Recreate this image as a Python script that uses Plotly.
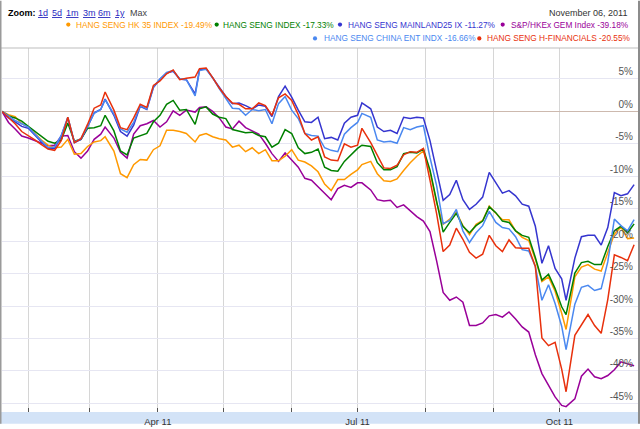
import plotly.graph_objects as go

# ---------------- data ----------------
dates = [
    "2011-01-20", "2011-01-23", "2011-01-26", "2011-01-29", "2011-02-01", "2011-02-04",
    "2011-02-07", "2011-02-10", "2011-02-13", "2011-02-16", "2011-02-19", "2011-02-22",
    "2011-02-25", "2011-02-28", "2011-03-03", "2011-03-06", "2011-03-08", "2011-03-12",
    "2011-03-15", "2011-03-18", "2011-03-21", "2011-03-24", "2011-03-27", "2011-03-30",
    "2011-04-02", "2011-04-05", "2011-04-08", "2011-04-11", "2011-04-14", "2011-04-18",
    "2011-04-20", "2011-04-23", "2011-04-26", "2011-04-29", "2011-05-02", "2011-05-05",
    "2011-05-08", "2011-05-11", "2011-05-14", "2011-05-17", "2011-05-20", "2011-05-23",
    "2011-05-26", "2011-05-29", "2011-06-01", "2011-06-04", "2011-06-07", "2011-06-10",
    "2011-06-13", "2011-06-16",
    "2011-06-19", "2011-06-22", "2011-06-25", "2011-06-28", "2011-07-01", "2011-07-03",
    "2011-07-07", "2011-07-10", "2011-07-13", "2011-07-16", "2011-07-19", "2011-07-22",
    "2011-07-25", "2011-07-28", "2011-07-31", "2011-08-03", "2011-08-06", "2011-08-09",
    "2011-08-12", "2011-08-15",
    "2011-08-18", "2011-08-21", "2011-08-24", "2011-08-27", "2011-08-30", "2011-09-02",
    "2011-09-05",
    "2011-09-08", "2011-09-11", "2011-09-14", "2011-09-17", "2011-09-20", "2011-09-23",
    "2011-09-26", "2011-09-29", "2011-10-02", "2011-10-04", "2011-10-08", "2011-10-11",
    "2011-10-14", "2011-10-17", "2011-10-20", "2011-10-23", "2011-10-26", "2011-10-29",
    "2011-11-01", "2011-11-04",
]

hk35 = [0, -0.5, -0.8, -1.9, -2.4, -3.4, -4.4, -5.2, -5.6, -5.5, -4.3, -6.6, -6.5, -5.4, -4.7, -4.5, -3.9, -6.1, -9.6, -10.2, -8.2, -7.4, -7.5, -5.9,
        -5.3, -2.9, -2.9, -3.1, -3.4, -4.7, -3.7, -3.4, -3.9, -4.2, -4.4, -5.5, -5.2, -6.2, -5.6, -6.5, -5.9, -7.6, -7.6, -6.9, -5.9, -7.5, -7.8, -8.4, -9.3, -11.2,
        -12.2, -10.5, -10.5, -9.7, -9.0, -8.2, -7.7, -9.6, -10.7, -10.8, -10.4, -9.1, -7.9, -6.9, -6.1, -9.3, -14.0, -17.4, -16.6, -15.5,
        -17.6, -19.0, -17.4, -16.8, -14.6, -15.7, -16.7,
        -16.7, -18.4, -19.4, -19.9, -22.8, -26.2, -25.5, -27.7, -31.1, -33.6, -25.5, -24.0, -23.6, -24.3, -24.6, -21.8, -18.9, -17.8, -19.6, -19.49]

hsi = [0, -0.7, -1.0, -1.5, -2.3, -3.1, -3.9, -4.6, -4.9, -4.4, -1.8, -4.6, -4.3, -2.6, -2.5, -2.2, -0.6, -3.0, -6.1, -6.7, -4.1, -3.7, -3.4, -1.6,
       -0.6, 1.1, 1.7, 0.2, 0.3, -2.0, 0.4, 0.7, -0.4, -0.9, -1.1, -2.8, -3.1, -3.3, -3.2, -3.7, -3.9, -5.5, -4.9, -2.8, -3.4, -5.6, -6.5, -6.3, -5.8, -8.6,
       -9.1, -9.2, -7.7, -6.7, -5.7, -5.2, -5.4, -7.9, -9.0, -9.0, -8.5, -6.5, -6.3, -6.4, -5.8, -9.0, -13.7, -18.6, -17.1, -15.7,
       -17.7, -18.7, -17.6, -16.9, -14.7, -15.6, -16.9,
       -17.1, -18.4, -19.1, -19.4, -22.5, -26.0, -25.1, -27.3, -30.1, -31.3, -24.9, -23.3, -23.1, -23.6, -23.6, -20.8, -18.4, -17.7, -18.7, -17.33]

mainland25 = [0, -1.0, -1.6, -2.3, -2.6, -3.7, -4.7, -5.7, -5.7, -3.8, -1.0, -4.8, -4.3, -2.4, -0.2, 0.3, 1.9, -0.6, -3.1, -3.8, -2.1, 0.8, 0.3, 3.7,
              5.0, 5.9, 6.2, 5.0, 4.9, 2.7, 6.4, 6.6, 5.2, 3.6, 2.3, 1.2, 1.3, 0.9, 0.4, 1.0, 0.8, -0.8, 2.3, 3.9, 2.2, 0.2, -1.6, -1.7, -0.9, -4.2,
              -4.0, -4.4, -1.8, -0.9, -0.6, 1.3, 0.4, -2.4, -3.1, -2.9, -3.4, -0.9, -1.1, -0.9, -1.0, -4.5, -9.3, -13.7, -12.8, -10.6,
              -13.6, -15.1, -14.3, -13.2, -9.4, -10.9, -12.6,
              -12.2, -13.0, -14.3, -14.6, -17.7, -23.4, -20.7, -24.2, -25.8, -29.1, -22.6, -19.3, -19.1, -19.1, -20.6, -17.9, -12.5, -13.0, -12.7, -11.27]

gem = [0, -1.7, -2.7, -3.8, -4.1, -4.5, -4.9, -5.3, -5.2, -3.8, -3.7, -6.2, -7.2, -6.1, -4.3, -3.5, -2.4, -4.1, -6.3, -7.2, -3.5, -2.2, -1.9, -1.4,
       -2.4, -1.6, 0.1, -0.6, 0.2, -0.1, 0.6, 0.7, 0.0, -1.0, -2.4, -2.7, -1.5, -2.5, -3.0, -3.5, -4.9, -6.5, -7.7, -6.4, -7.5, -8.6, -10.3, -10.6, -11.6, -12.6,
       -13.6, -11.9, -11.4, -11.7, -11.0, -11.0, -12.1, -13.6, -13.8, -13.7, -14.8, -14.4, -15.3, -16.2, -16.9, -18.5, -23.0, -27.9, -29.1, -28.6,
       -29.4, -33.0, -33.0, -32.6, -31.5, -31.3, -31.7,
       -30.9, -32.0, -33.2, -34.0, -37.5, -40.4, -42.3, -44.0, -45.3, -45.5, -44.3, -40.8, -39.7, -40.9, -41.2, -40.7, -39.8, -38.6, -38.9, -39.18]

china_ent = [0, -0.7, -1.4, -1.9, -2.4, -3.5, -4.5, -5.6, -5.5, -3.7, -0.9, -4.7, -4.2, -2.2, -0.3, 0.3, 1.8, -0.4, -2.7, -3.2, -1.7, 0.9, 0.4, 3.8,
             5.0, 6.0, 6.3, 5.0, 4.9, 2.4, 6.3, 6.5, 5.2, 3.5, 1.9, 0.5, 0.4, -0.6, 0.3, 0.1, 0.3, -1.9, 1.2, 2.3, 0.2, -1.1, -3.4, -3.7, -3.8, -5.6,
             -6.0, -6.2, -3.5, -2.5, -1.7, -0.3, -0.9, -4.4, -4.7, -4.6, -4.9, -2.5, -2.8, -2.4, -2.2, -7.1, -11.4, -17.3, -16.8, -15.1,
             -18.4, -20.2, -18.7, -17.6, -15.4, -17.1, -17.9,
             -18.1, -19.3, -21.3, -21.5, -23.9, -29.1, -26.7, -29.6, -33.1, -36.7, -29.7, -27.1, -26.8, -27.6, -27.3, -23.2, -16.6, -17.6, -18.4, -16.66]

h_fin = [0, -0.9, -1.9, -3.1, -3.7, -4.4, -5.1, -5.8, -6.0, -4.5, -0.9, -4.8, -4.2, -2.0, 0.5, 1.0, 3.0, 0.2, -2.5, -2.8, -1.0, 1.1, 0.6, 4.0,
         4.7, 5.8, 6.4, 4.9, 5.1, 5.3, 6.6, 6.7, 5.2, 3.6, 2.3, 1.3, 1.1, 0.4, 0.4, 1.3, 0.9, -0.6, 2.1, 2.7, 1.7, -0.5, -3.4, -4.4, -3.9, -7.0,
         -7.5, -7.6, -5.0, -5.5, -5.2, -2.6, -4.8, -6.7, -8.7, -8.8, -8.3, -6.7, -6.2, -6.3, -5.7, -10.6, -15.7, -21.6, -20.6, -18.0,
         -19.7, -21.7, -22.6, -22.0, -19.1, -20.7, -21.6,
         -19.8, -21.0, -21.1, -21.1, -23.9, -34.9, -36.1, -35.6, -39.7, -43.2, -34.5, -32.8, -31.3, -33.0, -34.2, -29.0, -22.1, -22.5, -23.0, -20.55]

series_names = ["HANG SENG HK 35 INDEX", "HANG SENG INDEX", "HANG SENG MAINLAND25 IX",
                "S&P/HKEx GEM Index", "HANG SENG CHINA ENT INDX", "HANG SENG H-FINANCIALS"]

y_tick_vals = [5, 0, -5, -10, -15, -20, -25, -30, -35, -40, -45]
y_tick_text = ["5%", "0%", "-5%", "-10%", "-15%", "-20%", "-25%", "-30%", "-35%", "-40%", "-45%"]

x_tick_vals = ["2011-02-01", "2011-03-01", "2011-04-01", "2011-05-01", "2011-06-01",
               "2011-07-01", "2011-08-01", "2011-09-01", "2011-10-01", "2011-11-01"]
x_tick_text = ["", "", "Apr 11", "", "", "Jul 11", "", "", "Oct 11", ""]

zoom_links = ["1d", "5d", "1m", "3m", "6m", "1y"]
as_of_text = "November 06, 2011"

# ---------------- style ----------------
W, H = 640, 429
ML, MR, MT, MB = 2, 2, 48, 12
PW, PH = W - ML - MR, H - MT - MB


def px_x(p):
    return (p - ML) / PW


def px_y(p):
    return (H - MB - p) / PH


colors = {
    "HANG SENG HK 35 INDEX": "#FF9900",
    "HANG SENG INDEX": "#008000",
    "HANG SENG MAINLAND25 IX": "#3535CF",
    "S&P/HKEx GEM Index": "#990099",
    "HANG SENG CHINA ENT INDX": "#4A88F0",
    "HANG SENG H-FINANCIALS": "#E8300C",
}
values = {
    "HANG SENG HK 35 INDEX": hk35,
    "HANG SENG INDEX": hsi,
    "HANG SENG MAINLAND25 IX": mainland25,
    "S&P/HKEx GEM Index": gem,
    "HANG SENG CHINA ENT INDX": china_ent,
    "HANG SENG H-FINANCIALS": h_fin,
}

fig = go.Figure()
draw_order = ["S&P/HKEx GEM Index", "HANG SENG HK 35 INDEX", "HANG SENG INDEX",
              "HANG SENG MAINLAND25 IX", "HANG SENG CHINA ENT INDX", "HANG SENG H-FINANCIALS"]
for name in draw_order:
    fig.add_trace(go.Scatter(x=dates, y=values[name], mode="lines", name=name,
                             line=dict(color=colors[name], width=1.5), showlegend=False,
                             hoverinfo="skip"))

FONT = "Liberation Sans, Arial, sans-serif"

fig.update_layout(
    width=W, height=H,
    margin=dict(l=ML, r=MR, t=MT, b=MB, pad=0),
    paper_bgcolor="white", plot_bgcolor="white",
    showlegend=False,
    font=dict(family=FONT, size=10, color="#444"),
    xaxis=dict(
        type="date",
        range=["2011-01-20 00:29", "2011-11-05 18:30"],
        tickmode="array", tickvals=x_tick_vals, ticktext=x_tick_text,
        showgrid=True, gridcolor="#D6D6D6", gridwidth=1,
        ticks="inside", ticklen=4, tickcolor="#555", tickwidth=1,
        ticklabelstandoff=2,
        zeroline=False, showline=False,
        tickfont=dict(family=FONT, size=9.5, color="#333"),
        fixedrange=True,
    ),
    yaxis=dict(
        range=[-46.32, 9.775],
        side="right",
        tickmode="array", tickvals=y_tick_vals, ticktext=y_tick_text,
        ticklabelposition="inside top",
        ticklabelstandoff=2,
        showgrid=True, gridcolor="#E6E6F2", gridwidth=1,
        zeroline=True, zerolinecolor="#CDB9AE", zerolinewidth=1,
        ticks="", showline=False,
        tickfont=dict(family=FONT, size=10, color="#555"),
        fixedrange=True,
    ),
)

shapes = []
# bottom band
shapes.append(dict(type="rect", xref="paper", yref="paper", layer="below",
                   x0=px_x(0), x1=px_x(W), y0=px_y(H), y1=px_y(H - MB),
                   fillcolor="#D3E3F7", line=dict(width=0)))
# top separator line
shapes.append(dict(type="line", xref="paper", yref="paper", layer="above",
                   x0=px_x(0), x1=px_x(W), y0=1, y1=1,
                   line=dict(color="#BDBDBD", width=1)))
# left and right frame
shapes.append(dict(type="rect", xref="paper", yref="paper", layer="above",
                   x0=px_x(0), x1=px_x(1.5), y0=px_y(H), y1=px_y(0),
                   fillcolor="#9A9A9A", line=dict(width=0)))
shapes.append(dict(type="rect", xref="paper", yref="paper", layer="above",
                   x0=px_x(638), x1=px_x(W), y0=px_y(H), y1=px_y(0),
                   fillcolor="#8C8C8C", line=dict(width=0)))

annotations = []

# header: zoom links
annotations.append(dict(xref="paper", yref="paper", x=px_x(6.5), y=px_y(12.7),
                        xanchor="left", yanchor="middle", showarrow=False, borderpad=0,
                        text="<b>Zoom:</b>", font=dict(family=FONT, size=9, color="#000")))
link_x = [36.7, 50.7, 65.0, 81.7, 96.7, 114.0]
for lx, lt in zip(link_x, zoom_links):
    annotations.append(dict(xref="paper", yref="paper", x=px_x(lx), y=px_y(12.7),
                            xanchor="left", yanchor="middle", showarrow=False, borderpad=0,
                            text="<u>" + lt + "</u>", font=dict(family=FONT, size=9, color="#2A2ABF")))
annotations.append(dict(xref="paper", yref="paper", x=px_x(129.3), y=px_y(12.7),
                        xanchor="left", yanchor="middle", showarrow=False, borderpad=0,
                        text="Max", font=dict(family=FONT, size=9, color="#444")))
annotations.append(dict(xref="paper", yref="paper", x=px_x(627.5), y=px_y(12.3),
                        xanchor="right", yanchor="middle", showarrow=False, borderpad=0,
                        text=as_of_text, font=dict(family=FONT, size=9, color="#333")))

# legend (dot + name + last value)
legend_pos = {
    "HANG SENG HK 35 INDEX": (68.3, 75.0, 24.3),
    "HANG SENG INDEX": (216.7, 222.3, 24.3),
    "HANG SENG MAINLAND25 IX": (340.0, 346.7, 24.3),
    "S&P/HKEx GEM Index": (502.7, 510.0, 24.3),
    "HANG SENG CHINA ENT INDX": (315.0, 322.7, 38.3),
    "HANG SENG H-FINANCIALS": (479.3, 485.7, 38.3),
}
for name in series_names:
    dx, tx, ty = legend_pos[name]
    c = colors[name]
    shapes.append(dict(type="circle", xref="paper", yref="paper", layer="above",
                       x0=px_x(dx - 2.1), x1=px_x(dx + 2.1), y0=px_y(ty + 2.1), y1=px_y(ty - 2.1),
                       fillcolor=c, line=dict(width=0)))
    last = values[name][-1]
    annotations.append(dict(xref="paper", yref="paper", x=px_x(tx), y=px_y(ty),
                            xanchor="left", yanchor="middle", showarrow=False, borderpad=0,
                            text=f"{name} {last:.2f}%",
                            font=dict(family=FONT, size=8.3, color=c)))

fig.update_layout(shapes=shapes, annotations=annotations)

fig.write_html(
    "out.html",
    config={"displayModeBar": False},
    post_script="document.body.style.margin='0';document.body.style.padding='0';document.body.style.overflow='hidden';",
)
